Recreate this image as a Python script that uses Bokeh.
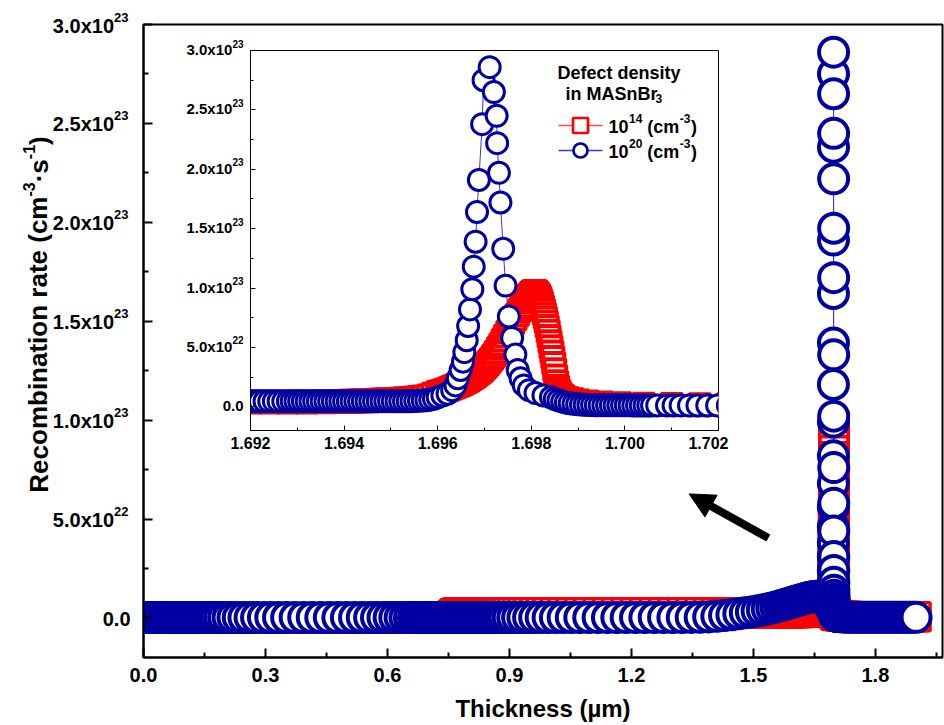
import math

from bokeh.plotting import figure
from bokeh.models import (Range1d, FixedTicker, CustomJSTickFormatter, NumeralTickFormatter,
                          Arrow, NormalHead)
from bokeh.core.properties import value
from bokeh.embed import file_html
from bokeh.resources import INLINE

# ---------------------------------------------------------------------------
# Recombination rate profiles (units of 1e21 cm^-3 s^-1) versus thickness (um)
# ---------------------------------------------------------------------------
UNIT = 1e21

# simulation mesh in front of the interface (shared by both defect densities)
mesh_front = [
    0.000, 0.006, 0.012, 0.018, 0.024, 0.030, 0.036, 0.042, 0.048, 0.054, 0.060, 0.066, 0.072,
    0.078, 0.084, 0.090, 0.096, 0.102, 0.108, 0.114, 0.120, 0.126, 0.132, 0.138, 0.143, 0.148,
    0.152, 0.157, 0.163, 0.170, 0.178, 0.187, 0.197, 0.208, 0.220, 0.233, 0.247, 0.262, 0.278,
    0.295, 0.313, 0.332, 0.352, 0.373, 0.394, 0.415, 0.436, 0.457, 0.478, 0.499, 0.519, 0.538,
    0.556, 0.573, 0.589, 0.604, 0.618, 0.631, 0.643, 0.654, 0.664, 0.673, 0.681, 0.688, 0.694,
    0.700, 0.706, 0.712, 0.718, 0.724, 0.730, 0.736, 0.742, 0.748, 0.754, 0.760, 0.766, 0.772,
    0.778, 0.784, 0.790, 0.796, 0.802, 0.808, 0.814, 0.820, 0.826, 0.832, 0.838, 0.843, 0.848,
    0.852, 0.857, 0.863, 0.870, 0.878, 0.887, 0.897, 0.908, 0.920, 0.933, 0.947, 0.962, 0.978,
    0.995, 1.013, 1.032, 1.052, 1.073, 1.095, 1.118, 1.141, 1.164, 1.187, 1.210, 1.233, 1.256,
    1.279, 1.302, 1.325, 1.347, 1.369, 1.390, 1.410, 1.429, 1.447, 1.464, 1.480, 1.495, 1.509,
    1.522, 1.534, 1.545, 1.555, 1.564, 1.572, 1.579, 1.585, 1.590, 1.595,
    1.600, 1.605, 1.610, 1.615, 1.620, 1.625, 1.630, 1.635, 1.640, 1.645, 1.650, 1.655, 1.660,
    1.664, 1.668, 1.672, 1.676, 1.679, 1.682, 1.685, 1.687, 1.689,
]
rate20_front = [
    0.2, 0.2, 0.2, 0.2, 0.2, 0.2, 0.2, 0.2, 0.2, 0.2, 0.2, 0.2, 0.2,
    0.2, 0.2, 0.2, 0.2, 0.2, 0.2, 0.2, 0.2, 0.2, 0.2, 0.2, 0.2, 0.2,
    0.2, 0.2, 0.2, 0.2, 0.2, 0.2, 0.2, 0.2, 0.2, 0.2, 0.2, 0.2, 0.2,
    0.2, 0.2, 0.2, 0.2, 0.2, 0.2, 0.2, 0.2, 0.2, 0.2, 0.2, 0.2, 0.2,
    0.2, 0.2, 0.2, 0.2, 0.2, 0.2, 0.2, 0.2, 0.2, 0.2, 0.2, 0.2, 0.2,
    0.2, 0.2, 0.2, 0.2, 0.2, 0.2, 0.2, 0.2, 0.2, 0.2, 0.2, 0.2, 0.2,
    0.2, 0.2, 0.2, 0.2, 0.2, 0.2, 0.2, 0.2, 0.2, 0.2, 0.2, 0.2, 0.2,
    0.2, 0.2, 0.2, 0.2, 0.2, 0.2, 0.2, 0.2, 0.2, 0.2, 0.2, 0.2, 0.2,
    0.2, 0.2, 0.2, 0.2, 0.2, 0.2, 0.2, 0.2, 0.2, 0.2, 0.2, 0.2, 0.2,
    0.2, 0.2, 0.2, 0.25, 0.3, 0.5, 0.8, 1.2, 1.6, 2.1, 2.6, 3.0, 3.5,
    4.0, 4.5, 5.0, 5.5, 6.0, 6.5, 6.9, 7.3, 7.6, 7.9,
    8.2, 8.5, 8.8, 9.1, 9.4, 9.7, 10.0, 10.3, 10.5, 10.7, 10.9, 11.0, 11.0,
    10.9, 10.6, 10.1, 9.4, 8.7, 7.9, 7.1, 6.4, 5.9,
]
rate14_front = [
    0.1, 0.1, 0.1, 0.1, 0.1, 0.1, 0.1, 0.1, 0.1, 0.1, 0.1, 0.1, 0.1,
    0.1, 0.1, 0.1, 0.1, 0.1, 0.1, 0.1, 0.1, 0.1, 0.1, 0.1, 0.1, 0.1,
    0.1, 0.1, 0.1, 0.1, 0.1, 0.1, 0.1, 0.1, 0.1, 0.1, 0.1, 0.1, 0.1,
    0.1, 0.1, 0.1, 0.1, 0.1, 0.1, 0.1, 0.1, 0.1, 0.1, 0.1, 0.1, 0.1,
    0.1, 0.1, 0.1, 0.1, 0.1, 0.1, 0.1, 0.1, 0.1, 0.1, 0.1, 0.1, 0.1,
    0.1, 0.1, 0.1, 0.1, 0.1, 0.1, 0.1, 0.1, 0.1, 0.1, 1.2, 2.2, 2.6,
    2.6, 2.6, 2.6, 2.6, 2.6, 2.6, 2.6, 2.6, 2.6, 2.6, 2.6, 2.6, 2.6,
    2.6, 2.6, 2.6, 2.6, 2.6, 2.6, 2.6, 2.6, 2.6, 2.6, 2.6, 2.6, 2.6,
    2.6, 2.6, 2.6, 2.6, 2.6, 2.6, 2.6, 2.6, 2.6, 2.6, 2.6, 2.6, 2.6,
    2.6, 2.6, 2.6, 2.6, 2.6, 2.6, 2.6, 2.6, 2.6, 2.6, 2.6, 2.6, 2.6,
    2.6, 2.6, 2.6, 2.6, 2.6, 2.6, 2.6, 2.6, 2.6, 2.6,
    2.7, 2.7, 2.8, 2.8, 2.9, 2.9, 3.0, 3.0, 3.1, 3.1, 3.2, 3.2, 3.3,
    3.3, 3.4, 3.5, 3.5, 3.6, 3.7, 3.8, 3.8, 3.9,
]

# back contact region
mesh_back = [
    1.704, 1.708, 1.713, 1.719, 1.726, 1.734, 1.742, 1.750, 1.758, 1.766, 1.774, 1.782, 1.790,
    1.798, 1.806, 1.814, 1.822, 1.830, 1.838, 1.846, 1.854, 1.862, 1.870, 1.878, 1.886, 1.894,
    1.900,
]
rate20_back = [
    1.0, 0.8, 0.6, 0.5, 0.4, 0.4, 0.3, 0.3, 0.3, 0.3, 0.3, 0.3, 0.3,
    0.3, 0.3, 0.3, 0.3, 0.3, 0.3, 0.3, 0.3, 0.3, 0.3, 0.3, 0.3, 0.3,
    0.3,
]
rate14_back = [
    1.4, 1.2, 1.0, 0.9, 0.8, 0.7, 0.6, 0.6, 0.6, 0.6, 0.6, 0.6, 0.6,
    0.6, 0.6, 0.6, 0.6, 0.6, 0.6, 0.6, 0.6, 0.6, 0.6, 0.6, 0.6, 0.6,
    0.6,
]

# refined mesh around the recombination peak, defect density 1e20 cm^-3
peak20_x = [
    1.6900, 1.6905, 1.6910, 1.6914, 1.6917,
    1.6920, 1.6921, 1.6922, 1.6923, 1.6924, 1.6925, 1.6926, 1.6927, 1.6928,
    1.69288, 1.69296, 1.69304, 1.69312, 1.69320, 1.69328, 1.69336, 1.69344, 1.69352, 1.69360,
    1.69368, 1.69376, 1.69384, 1.69392, 1.69400, 1.69408, 1.69416, 1.69424, 1.69432, 1.69440,
    1.69448, 1.69456, 1.69464, 1.69472, 1.69480, 1.69488, 1.69496, 1.69504, 1.69512, 1.69520,
    1.69528, 1.69536, 1.69544, 1.69552, 1.69560, 1.69568, 1.69576, 1.69584, 1.69592, 1.69600,
    1.69610, 1.69621, 1.69631, 1.69638, 1.69643, 1.69649, 1.69654, 1.69657, 1.69662, 1.69665,
    1.69669, 1.69674, 1.69677, 1.69681, 1.69684, 1.69688, 1.69695, 1.69698, 1.69711,
    1.69720, 1.69726, 1.69727, 1.69731, 1.69734, 1.69740, 1.69745, 1.69752, 1.69759, 1.69766,
    1.69771, 1.69777, 1.69784, 1.69795, 1.69809, 1.69826,
    1.69842, 1.69850, 1.69858, 1.69866, 1.69874, 1.69882, 1.69890, 1.69898, 1.69906, 1.69914,
    1.69922, 1.69930, 1.69938, 1.69946, 1.69954, 1.69962, 1.69970, 1.69978, 1.69986, 1.69994,
    1.70002, 1.70010, 1.70018, 1.70026, 1.70034, 1.70042, 1.70050, 1.70058,
    1.70069, 1.70090, 1.70104, 1.70119, 1.70137, 1.70155, 1.70176, 1.70197, 1.70220, 1.70250,
    1.70300, 1.70350,
]
peak20_rate = [
    5.6, 5.3, 5.0, 4.8, 4.7,
    4.6, 4.6, 4.6, 4.6, 4.6, 4.6, 4.6, 4.6, 4.6,
    4.6, 4.6, 4.6, 4.6, 4.6, 4.6, 4.6, 4.6, 4.6, 4.6,
    4.6, 4.6, 4.6, 4.6, 4.6, 4.6, 4.6, 4.6, 4.6, 4.6,
    4.6, 4.6, 4.6, 4.6, 4.6, 4.6, 4.6, 4.6, 4.6, 4.6,
    4.6, 4.6, 4.7, 4.8, 5.0, 5.2, 5.5, 6.0, 6.8, 8.0,
    9.5, 11.0, 14.0, 18.0, 24.0, 31.0, 38.0, 46.0, 56.0, 68.0,
    82.0, 99.0, 118.0, 139.0, 164.0, 191.0, 238.0, 275.0, 286.0,
    265.0, 245.0, 222.0, 197.0, 172.0, 133.0, 102.0, 76.0, 58.0, 44.0,
    31.0, 24.0, 18.0, 14.0, 11.5, 9.5,
    8.0, 6.6, 5.4, 4.4, 3.6, 3.0, 2.5, 2.1, 1.8, 1.6,
    1.5, 1.4, 1.3, 1.3, 1.2, 1.2, 1.2, 1.2, 1.2, 1.2,
    1.2, 1.2, 1.1, 1.1, 1.1, 1.1, 1.1, 1.1,
    1.1, 1.1, 1.1, 1.1, 1.1, 1.1, 1.1, 1.1, 1.1, 1.0,
    1.0, 1.0,
]

# refined mesh around the recombination peak, defect density 1e14 cm^-3
peak14_x = [
    1.6900, 1.6905, 1.6910, 1.6915, 1.6920, 1.6924, 1.6928, 1.6932, 1.6936,
    1.6940, 1.6941, 1.6942, 1.6943, 1.6944, 1.6945, 1.6946, 1.6947, 1.6948, 1.6949,
    1.6950, 1.6951, 1.6952, 1.6953, 1.6954, 1.6955, 1.6956, 1.6957, 1.6958, 1.6959,
    1.69600, 1.69605, 1.69610, 1.69615, 1.69620, 1.69625, 1.69630, 1.69635, 1.69640, 1.69645,
    1.69650, 1.69655, 1.69660, 1.69665, 1.69670, 1.69675, 1.69680, 1.69685, 1.69690, 1.69695,
    1.69700, 1.69705, 1.69710, 1.69715, 1.69720, 1.69725, 1.69730, 1.69735, 1.69740, 1.69745,
    1.69750, 1.69755, 1.69760, 1.69765, 1.69770, 1.69775, 1.69780, 1.69785, 1.69790, 1.69795,
    1.69800,
    1.69802, 1.69804, 1.69806, 1.69808, 1.69810, 1.69812, 1.69814, 1.69816, 1.69818, 1.69820,
    1.69822, 1.69824, 1.69826, 1.69828, 1.69830, 1.69832, 1.69834, 1.69836, 1.69838, 1.69840,
    1.69842, 1.69844, 1.69846, 1.69848, 1.69850, 1.69852, 1.69854, 1.69856, 1.69858, 1.69860,
    1.69865, 1.69870, 1.69878, 1.69888,
    1.6990, 1.6992, 1.6995, 1.6999, 1.7004, 1.7010, 1.7016, 1.7022, 1.7030,
]
peak14_rate = [
    3.9, 3.9, 3.9, 3.9, 3.9, 3.9, 4.0, 4.1, 4.3,
    4.5, 4.6, 4.7, 4.8, 5.0, 5.1, 5.3, 5.4, 5.6, 5.8,
    6.0, 6.2, 6.4, 6.7, 7.0, 7.4, 7.8, 8.3, 9.0, 10.5,
    12.0, 12.5, 13.0, 13.7, 14.4, 15.2, 16.0, 16.8, 17.6, 18.4,
    19.2, 20.2, 21.2, 22.3, 23.5, 24.8, 26.2, 27.7, 29.3, 31.0,
    33.0, 35.2, 37.6, 40.2, 43.0, 46.0, 49.2, 52.5, 56.0, 59.6,
    63.2, 66.8, 70.4, 74.0, 77.5, 81.0, 84.5, 88.0, 91.0, 93.5,
    95.5,
    96.3, 96.8, 97.0, 97.0, 96.7, 96.0, 95.0, 93.6, 92.0, 89.8,
    87.3, 84.5, 81.5, 78.3, 75.0, 71.3, 67.5, 63.5, 59.2, 54.8,
    50.5, 46.2, 41.5, 36.5, 31.2, 26.0, 21.0, 17.0, 14.0, 12.0,
    9.5, 8.0, 6.8, 5.8,
    4.8, 4.0, 3.2, 2.6, 2.2, 1.9, 1.7, 1.6, 1.5,
]

# axis ticks
x_ticks = [0.0, 0.3, 0.6, 0.9, 1.2, 1.5, 1.8]
x_minor = [0.15, 0.45, 0.75, 1.05, 1.35, 1.65, 1.95]
y_ticks = [0.0, 5e22, 1e23, 1.5e23, 2e23, 2.5e23, 3e23]
y_minor = [2.5e22, 7.5e22, 1.25e23, 1.75e23, 2.25e23, 2.75e23]
inset_x_ticks = [1.692, 1.694, 1.696, 1.698, 1.700, 1.702]
inset_x_minor = [1.693, 1.695, 1.697, 1.699, 1.701]

assert len(mesh_front) == len(rate20_front) == len(rate14_front)
assert len(mesh_back) == len(rate20_back) == len(rate14_back)
assert len(peak20_x) == len(peak20_rate)
assert len(peak14_x) == len(peak14_rate)

x20 = mesh_front + peak20_x + mesh_back
y20 = [v * UNIT for v in rate20_front + peak20_rate + rate20_back]
x14 = mesh_front + peak14_x + mesh_back
y14 = [v * UNIT for v in rate14_front + peak14_rate + rate14_back]

# ---------------------------------------------------------------------------
FONT = "Liberation Sans"
BLUE = "#0000a0"
BLUE_LINE = "#3a3ad0"
RED = "#ff0000"
RED_LINE = "#ff4a4a"

PAGE_W, PAGE_H = 944, 725
Y_RANGE = (-2e22, 3e23)
X_RANGE = (0.0, 1.965)
INSET_X = (1.692, 1.702)

# main frame: borders in pixels
M_BL, M_BR, M_BT, M_BB = 143, 2, 24, 68
M_FH = PAGE_H - M_BT - M_BB

# inset canvas placement and frame
IN_LEFT, IN_TOP = 165, 40
IN_BL, IN_BR, IN_BT, IN_BB = 85, 10, 10, 30
IN_FW, IN_FH = 468, 380
FRAME_L, FRAME_T = IN_LEFT + IN_BL, IN_TOP + IN_BT

# Arial/Liberation Sans Bold advance widths (em)
ADV = {"0": .556, "1": .556, "2": .556, "3": .556, "4": .556, "5": .556, " ": .278,
       "(": .333, ")": .333, "c": .556, "m": .889, "-": .333, ".": .278, "x": .556}


def text_width(s, size):
    return sum(ADV.get(ch, .556) for ch in s) * size


def sci_parts(v):
    """Split a tick value into '3.0x10' and its exponent '23'."""
    if v == 0:
        return "0.0", ""
    exp = math.floor(math.log10(abs(v)) + 1e-9)
    return f"{v / 10 ** exp:.1f}x10", str(exp)


def style_axes(fig, label_size, tick_in, minor_in, width):
    for ax in (fig.xaxis[0], fig.yaxis[0]):
        ax.major_label_text_font = FONT
        ax.major_label_text_font_style = "bold"
        ax.major_label_text_color = "black"
        ax.major_label_text_font_size = label_size
        ax.axis_line_width = width
        ax.axis_line_color = "black"
        ax.major_tick_line_width = width
        ax.minor_tick_line_width = width
        ax.major_tick_line_color = "black"
        ax.minor_tick_line_color = "black"
        ax.major_tick_in = tick_in
        ax.major_tick_out = 0
        ax.minor_tick_in = minor_in
        ax.minor_tick_out = 0
    fig.xgrid.visible = False
    fig.ygrid.visible = False
    # y tick labels carry superscripts and are written on the overlay instead
    fig.yaxis.formatter = CustomJSTickFormatter(code="return '';")
    fig.yaxis.major_label_standoff = 0


def draw_profiles(fig, c_size, c_width, s_size, s_width):
    fig.line(x14, y14, line_color=RED_LINE, line_width=1)
    fig.scatter(x14, y14, marker="square", size=s_size, line_color=RED,
                line_width=s_width, fill_color="white")
    fig.line(x20, y20, line_color=BLUE_LINE, line_width=1)
    fig.scatter(x20, y20, marker="circle", size=c_size, line_color=BLUE,
                line_width=c_width, fill_color="white")


# ---------------------------- main panel -----------------------------------
p = figure(width=PAGE_W, height=PAGE_H, output_backend="svg", toolbar_location=None,
           x_range=Range1d(*X_RANGE), y_range=Range1d(*Y_RANGE),
           min_border_left=M_BL, min_border_right=M_BR, min_border_top=M_BT,
           min_border_bottom=M_BB, background_fill_color="white", border_fill_color="white")
p.outline_line_color = "black"
p.outline_line_width = 2

draw_profiles(p, c_size=29, c_width=4, s_size=28, s_width=3.5)

p.xaxis.ticker = FixedTicker(ticks=x_ticks, minor_ticks=x_minor)
p.yaxis.ticker = FixedTicker(ticks=y_ticks, minor_ticks=y_minor)
p.xaxis.formatter = NumeralTickFormatter(format="0.0")
style_axes(p, "20px", 9, 5, 2)
p.xaxis.major_label_standoff = 10

p.xaxis.axis_label = "Thickness (\u00b5m)"
p.xaxis.axis_label_text_font = FONT
p.xaxis.axis_label_text_font_style = "bold"
p.xaxis.axis_label_text_font_size = "24px"
p.xaxis.axis_label_text_color = "black"
p.xaxis.axis_label_standoff = 10

# arrow pointing from the peak towards the magnified view
p.add_layout(Arrow(end=NormalHead(size=25, fill_color="black", line_color="black"),
                   x_start=1.5366, y_start=0.404e23, x_end=1.342, y_end=0.627e23,
                   line_width=8, line_color="black"))

# ---------------------------- inset panel ----------------------------------
inset = figure(width=IN_BL + IN_FW + IN_BR, height=IN_BT + IN_FH + IN_BB,
               output_backend="svg", toolbar_location=None,
               x_range=Range1d(*INSET_X), y_range=Range1d(*Y_RANGE),
               min_border_left=IN_BL, min_border_right=IN_BR,
               min_border_top=IN_BT, min_border_bottom=IN_BB,
               background_fill_color="white", border_fill_alpha=0)
inset.styles = {"position": "absolute", "left": f"{IN_LEFT}px", "top": f"{IN_TOP}px"}
inset.outline_line_color = "black"
inset.outline_line_width = 1

draw_profiles(inset, c_size=21, c_width=3, s_size=21, s_width=4)

inset.xaxis.ticker = FixedTicker(ticks=inset_x_ticks, minor_ticks=inset_x_minor)
inset.yaxis.ticker = FixedTicker(ticks=y_ticks, minor_ticks=y_minor)
inset.xaxis.formatter = NumeralTickFormatter(format="0.000")
style_axes(inset, "16px", 5, 3, 1)
inset.xaxis.major_label_standoff = 6

# ------------------- text overlay in page pixel coordinates ------------------
overlay = figure(width=PAGE_W, height=PAGE_H, output_backend="svg", toolbar_location=None,
                 x_range=Range1d(0, PAGE_W), y_range=Range1d(PAGE_H, 0),
                 x_axis_type=None, y_axis_type=None, min_border=0,
                 background_fill_alpha=0, border_fill_alpha=0, outline_line_color=None)
overlay.styles = {"position": "absolute", "left": "0px", "top": "0px"}
overlay.grid.visible = False

BASELINE_FIX = -6   # rendered alphabetic baseline sits lower than requested
texts = {"x": [], "y": [], "text": [], "size": [], "align": [], "angle": []}


def put(px, py, text, size, align="left", angle=0.0):
    texts["x"].append(px)
    texts["y"].append(py + (BASELINE_FIX if angle == 0 else 0))
    texts["text"].append(text)
    texts["size"].append(f"{size}px")
    texts["align"].append(align)
    texts["angle"].append(angle)


def sci_axis_labels(frame_top, frame_h, edge, gap, size, sup_size, drop, rise, zero_gap):
    for v in y_ticks:
        py = frame_top + (Y_RANGE[1] - v) / (Y_RANGE[1] - Y_RANGE[0]) * frame_h
        main, exp = sci_parts(v)
        if not exp:
            put(edge - zero_gap, py + drop, main, size, "right")
            continue
        x_sup = edge - gap - text_width(exp, sup_size)
        put(x_sup, py + drop, main, size, "right")
        put(x_sup, py + drop - rise, exp, sup_size, "left")


sci_axis_labels(M_BT, M_FH, M_BL, gap=15, size=20, sup_size=13, drop=7, rise=8.5, zero_gap=13)
sci_axis_labels(FRAME_T, IN_FH, FRAME_L, gap=7, size=15, sup_size=10, drop=5, rise=6,
                zero_gap=7)

# vertical axis title, written bottom-to-top with raised exponents
TITLE_SIZE, TITLE_SUP, TITLE_CENTER = 26, 16, 314
title_parts = [("Recombination rate (cm", False), ("-3", True), ("\u00b7s", False),
               ("-1", True), (")", False)]
TITLE_ADV = {"Recombination rate (cm": 11.391, "-3": .889, "\u00b7s": .889, "-1": .889,
             ")": .333}
title_len = sum(TITLE_ADV[t] * (TITLE_SUP if s else TITLE_SIZE) for t, s in title_parts)
ty = TITLE_CENTER + title_len / 2
for t, is_sup in title_parts:
    size = TITLE_SUP if is_sup else TITLE_SIZE
    put(38 - (10 if is_sup else 0), ty, t, size, "left", math.pi / 2)
    ty -= TITLE_ADV[t] * size

# legend of the magnified view
put(557, 78, "Defect density", 18)
put(565, 99, "in MASnBr", 18)
put(655, 104, "3", 12)

legend_rows = [("14", 125, "square", RED, RED_LINE, 15),
               ("20", 150, "circle", BLUE, BLUE_LINE, 14)]
for exponent, row_y, marker, color, line_color, msize in legend_rows:
    overlay.line([558, 602], [row_y, row_y], line_color=line_color, line_width=1.5)
    overlay.scatter([580], [row_y], marker=marker, size=msize, line_color=color,
                    line_width=2.7, fill_color="white")
    base = row_y + 7
    cx = 608
    put(cx, base, "10", 18)
    cx += text_width("10", 18) + 0.5
    put(cx, base - 8, exponent, 12)
    cx += text_width(exponent, 12) + text_width(" ", 18)
    put(cx, base, "(cm", 18)
    cx += text_width("(cm", 18) + 0.5
    put(cx, base - 8, "-3", 12)
    cx += text_width("-3", 12) + 0.5
    put(cx, base, ")", 18)

overlay.text(x="x", y="y", text="text", angle="angle", source=texts, text_font=value(FONT),
             text_font_style="bold", text_font_size="size", text_align="align",
             text_baseline="alphabetic", text_color="black")

open("out.html", "w").write(file_html([p, inset, overlay], INLINE))
